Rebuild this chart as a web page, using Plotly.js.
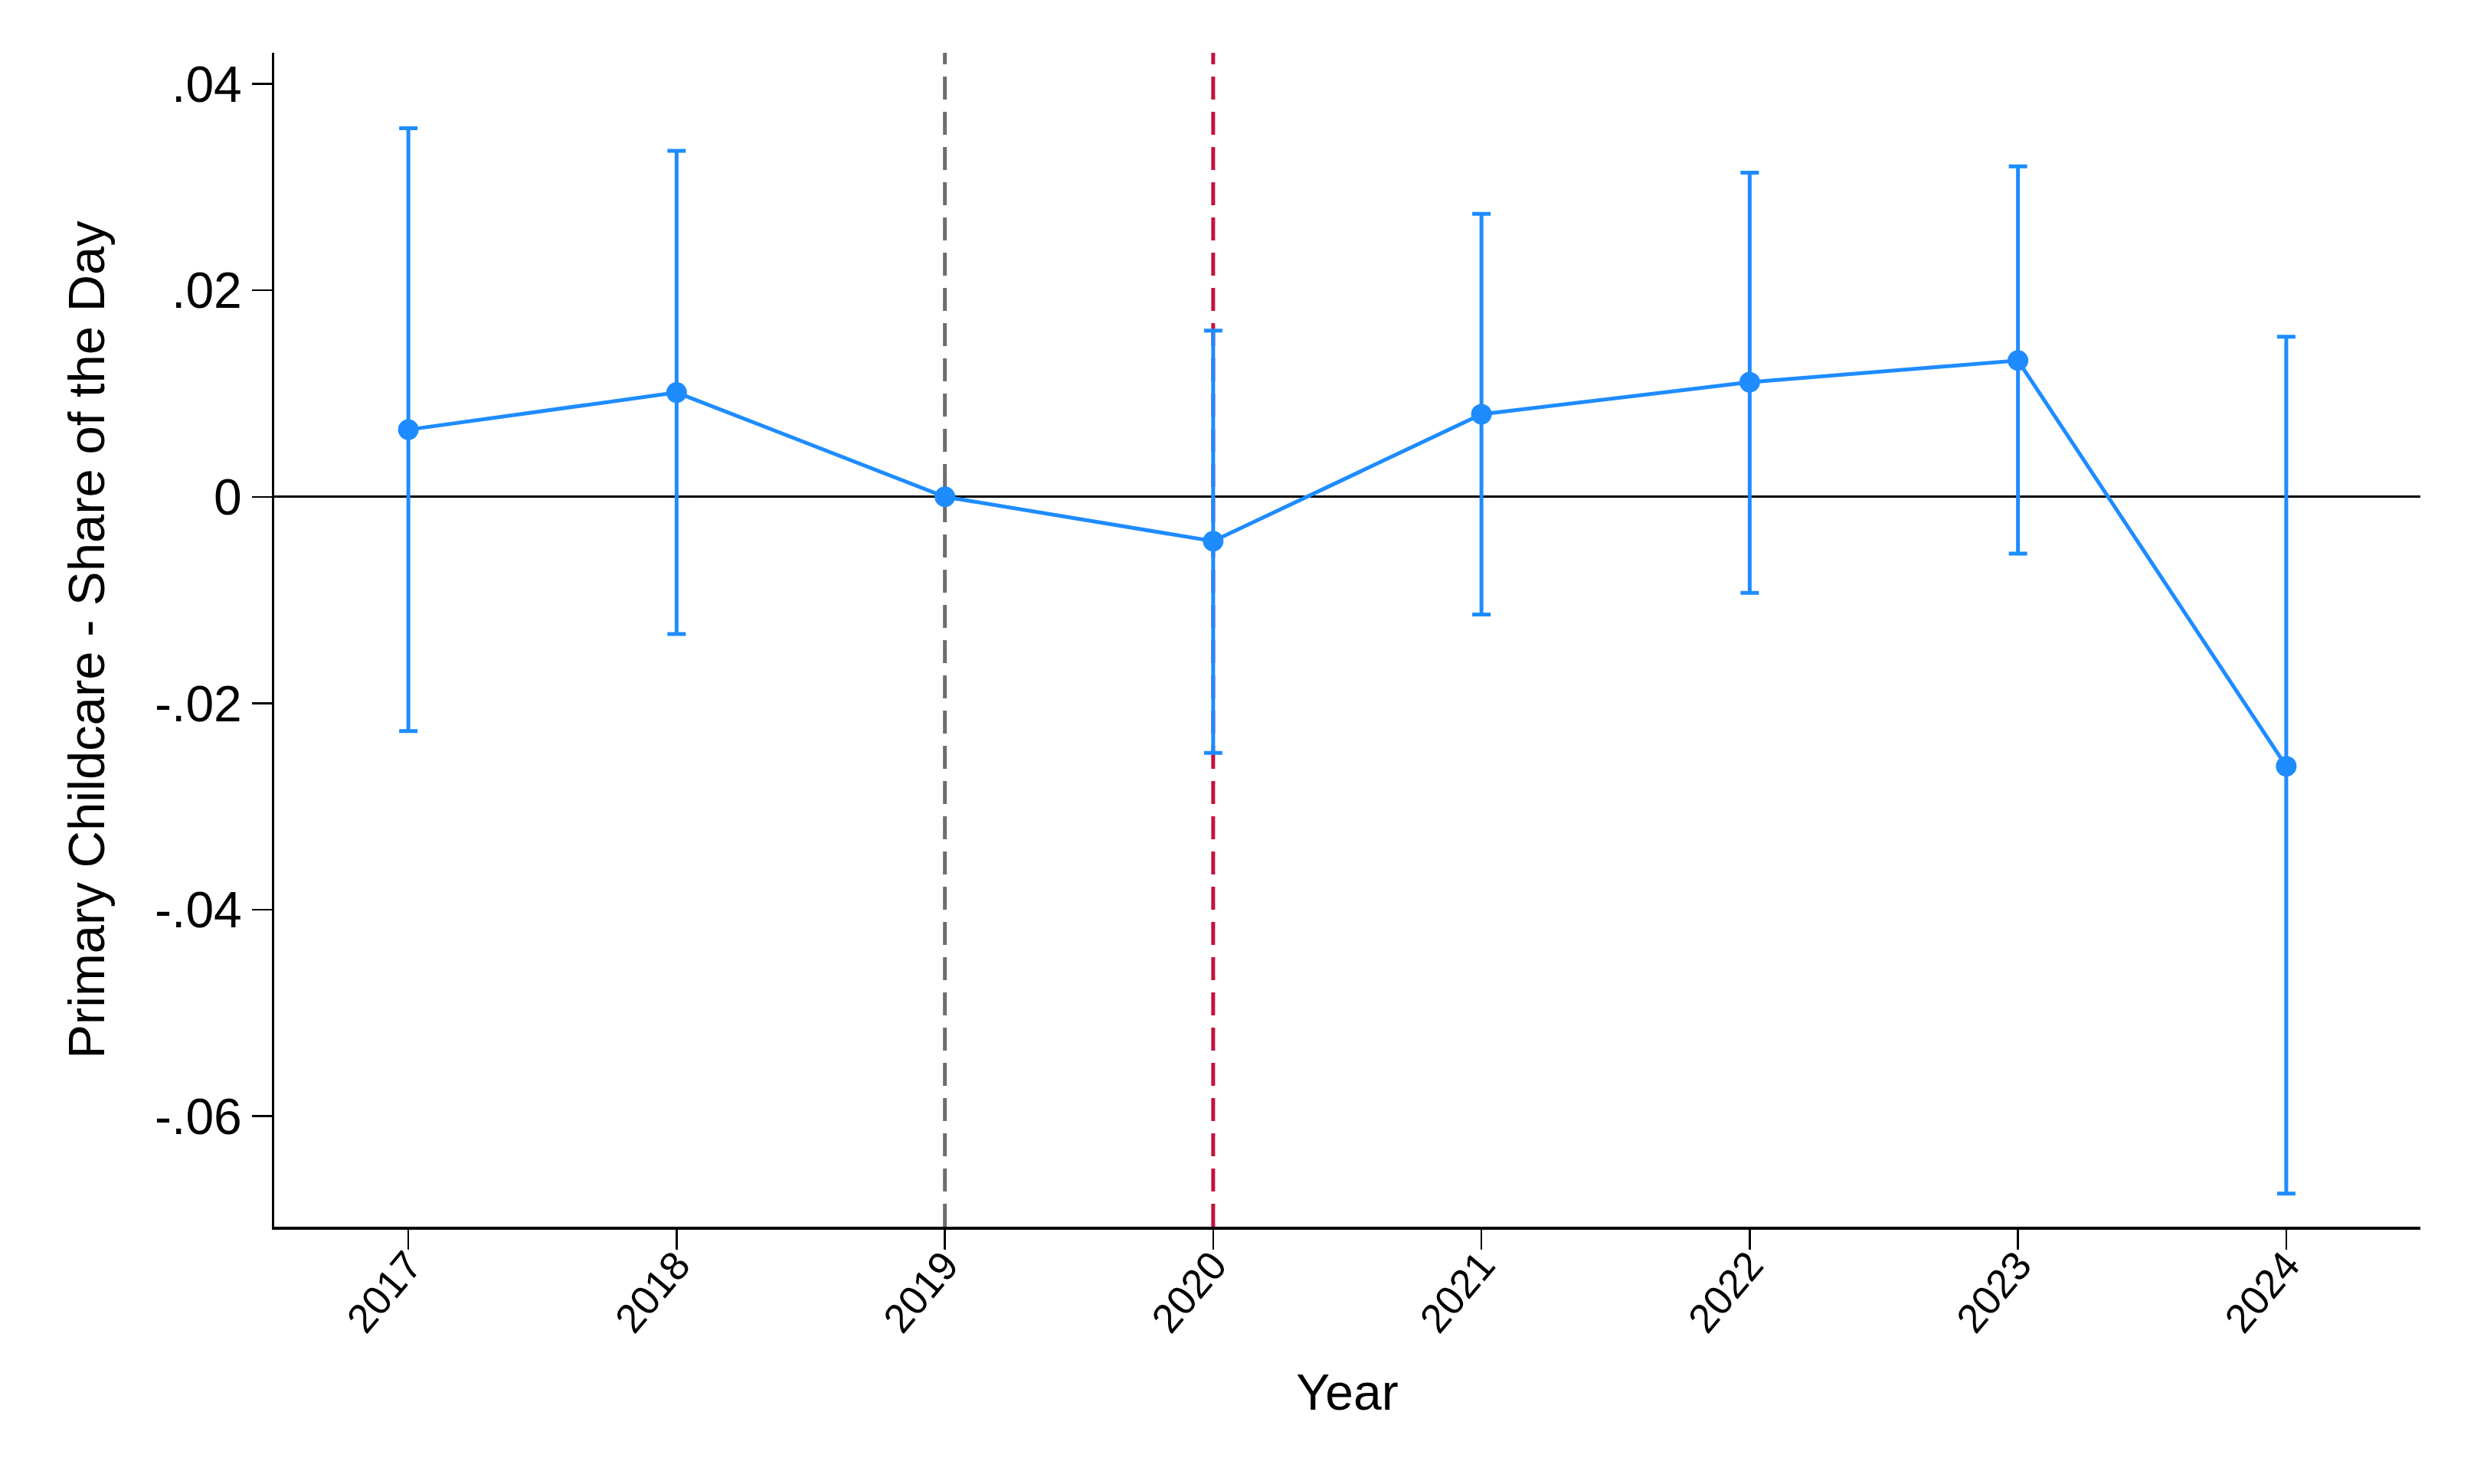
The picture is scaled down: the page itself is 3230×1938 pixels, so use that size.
<!DOCTYPE html>
<html>
<head>
<meta charset="utf-8">
<script src="https://cdn.plot.ly/plotly-3.0.1.min.js"></script>
<style>
  html, body { margin: 0; padding: 0; background: #ffffff; }
  #chart { width: 3230px; height: 1938px; }
</style>
</head>
<body>
<div id="chart"></div>
<script>
// ---- data ----
const years    = [2017, 2018, 2019, 2020, 2021, 2022, 2023, 2024];
const estimate = [0.0065, 0.0101, 0.0, -0.0043, 0.0080, 0.0111, 0.0132, -0.0261];
const ciUpper  = [0.0357, 0.0335, 0.0, 0.0161, 0.0274, 0.0314, 0.0320, 0.0155];
const ciLower  = [-0.0227, -0.0133, 0.0, -0.0248, -0.0114, -0.0093, -0.0055, -0.0675];
const yTickVals  = [0.04, 0.02, 0, -0.02, -0.04, -0.06];
const yTickText  = ['.04', '.02', '0', '-.02', '-.04', '-.06'];
const xTickText  = ['2017', '2018', '2019', '2020', '2021', '2022', '2023', '2024'];
const refYear    = 2019;   // grey dashed line
const eventYear  = 2020;   // red dashed line

const blue = '#1E8CFF';
const FONT = '"Liberation Sans", Arial, Helvetica, sans-serif';

const errPlus  = ciUpper.map((u, i) => u - estimate[i]);
const errMinus = estimate.map((e, i) => e - ciLower[i]);

const trace = {
  type: 'scatter',
  mode: 'lines+markers',
  x: years,
  y: estimate,
  line: { color: blue, width: 5 },
  marker: { color: blue, size: 27 },
  error_y: {
    type: 'data',
    symmetric: false,
    array: errPlus,
    arrayminus: errMinus,
    color: blue,
    thickness: 5,
    width: 12
  },
  hoverinfo: 'x+y',
  showlegend: false,
  cliponaxis: false
};

const layout = {
  width: 3230,
  height: 1938,
  paper_bgcolor: '#ffffff',
  plot_bgcolor: '#ffffff',
  margin: { l: 358, r: 70, t: 69, b: 336, pad: 0 },
  font: { family: FONT, color: '#000000' },
  showlegend: false,
  xaxis: {
    range: [2016.5, 2024.5],
    tickvals: years,
    ticktext: xTickText,
    tickangle: -50,
    tickfont: { size: 53, family: FONT, color: '#000' },
    ticks: 'outside',
    ticklen: 26,
    tickwidth: 2.5,
    tickcolor: '#000',
    ticklabelstandoff: -32,
    showline: true,
    linecolor: '#000',
    linewidth: 3.5,
    showgrid: false,
    zeroline: false,
    automargin: false,
    title: { text: 'Year', font: { size: 66, family: FONT, color: '#000' }, standoff: 46 }
  },
  yaxis: {
    range: [-0.0707, 0.0430],
    tickvals: yTickVals,
    ticktext: yTickText,
    tickfont: { size: 66, family: FONT, color: '#000' },
    ticks: 'outside',
    ticklen: 26,
    tickwidth: 2.5,
    tickcolor: '#000',
    showline: true,
    linecolor: '#000',
    linewidth: 3,
    showgrid: false,
    zeroline: true,
    zerolinecolor: '#000',
    zerolinewidth: 3,
    automargin: false,
    title: { text: 'Primary Childcare - Share of the Day', font: { size: 67, family: FONT, color: '#000' }, standoff: 44 }
  },
  shapes: [
    {
      type: 'line', xref: 'x', yref: 'paper',
      x0: refYear, x1: refYear, y0: 0, y1: 1,
      line: { color: '#6E6E6E', width: 5, dash: '30px,16px' },
      layer: 'below'
    },
    {
      type: 'line', xref: 'x', yref: 'paper',
      x0: eventYear, x1: eventYear, y0: 0, y1: 1,
      line: { color: '#C8103C', width: 5, dash: '30px,16px' },
      layer: 'below'
    }
  ]
};

Plotly.newPlot('chart', [trace], layout, { displayModeBar: false, staticPlot: true });
</script>
</body>
</html>
